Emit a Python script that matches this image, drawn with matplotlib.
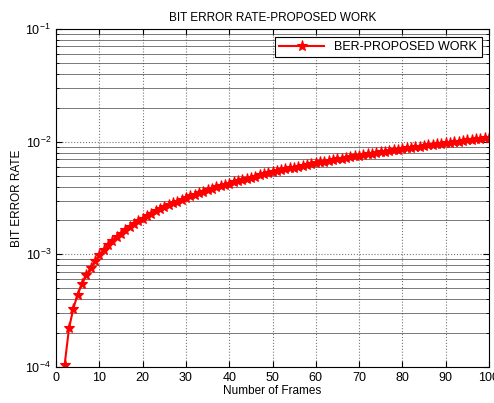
import matplotlib
matplotlib.use("Agg")
import matplotlib.pyplot as plt

plt.rcParams["font.family"] = ["Liberation Sans", "DejaVu Sans"]
plt.rcParams["mathtext.fontset"] = "custom"
plt.rcParams["mathtext.rm"] = "Liberation Sans"
plt.rcParams["mathtext.it"] = "Liberation Sans"

# frames 2..100, BER (units of 1e-4)
frames = list(range(2, 101))
ber_e4 = [
    1.05, 2.2, 3.3, 4.4, 5.45, 6.5, 7.6, 8.7, 9.8, 10.9,
    12.0, 13.1, 14.2, 15.3, 16.3, 17.4, 18.5, 19.6, 20.7, 21.8,
    22.9, 24.0, 25.1, 26.2, 27.2, 28.3, 29.4, 30.5, 31.6, 32.7,
    33.8, 34.9, 36.0, 37.1, 38.1, 39.2, 40.3, 41.4, 42.5, 43.6,
    44.7, 45.8, 46.9, 48.0, 49.0, 50.1, 51.2, 52.3, 53.4, 54.5,
    55.6, 56.7, 57.8, 58.9, 59.9, 61.0, 62.1, 63.2, 64.3, 65.4,
    66.5, 67.6, 68.7, 69.8, 70.8, 71.9, 73.0, 74.1, 75.2, 76.3,
    77.4, 78.5, 79.6, 80.7, 81.7, 82.8, 83.9, 85.0, 86.1, 87.2,
    88.3, 89.4, 90.5, 91.6, 92.6, 93.7, 94.8, 95.9, 97.0, 98.1,
    99.2, 100.3, 101.4, 102.5, 103.5, 104.6, 105.7, 106.8, 107.9,
]
ber = [v * 1e-4 for v in ber_e4]

fig = plt.figure(figsize=(4.94, 4.03), dpi=100)
ax = fig.add_axes([56 / 494, 1 - 367 / 403, (489 - 56) / 494, (367 - 29) / 403])

ax.semilogy(frames, ber, color="red", lw=1.5, marker="*", markersize=8,
            markeredgewidth=0.8, label="BER-PROPOSED WORK")

ax.set_xlim(0, 100)
ax.set_ylim(1e-4, 1e-1)
ax.set_xticks(range(0, 101, 10))

ax.grid(True, which="major", axis="both", color="#777777", ls=":", lw=0.8)
ax.grid(True, which="minor", axis="y", color="#444444", ls="-", lw=0.5)

ax.tick_params(which="both", direction="in", top=True, right=True,
               labelsize=9, color="black")
ax.tick_params(which="major", length=4)
ax.tick_params(which="minor", length=2)
for sp in ax.spines.values():
    sp.set_linewidth(0.8)

ax.set_title("BIT ERROR RATE-PROPOSED WORK", fontsize=8.5, pad=6)
ax.set_xlabel("Number of Frames", fontsize=8.5, labelpad=1)
ax.set_ylabel("BIT ERROR RATE", fontsize=8.5, labelpad=2)

leg = ax.legend(loc="upper right", fontsize=9, fancybox=False, framealpha=1,
                edgecolor="black", borderaxespad=0.6, handlelength=3.6,
                borderpad=0.35)
leg.get_frame().set_linewidth(0.8)

fig.savefig("out.png", dpi=100)
